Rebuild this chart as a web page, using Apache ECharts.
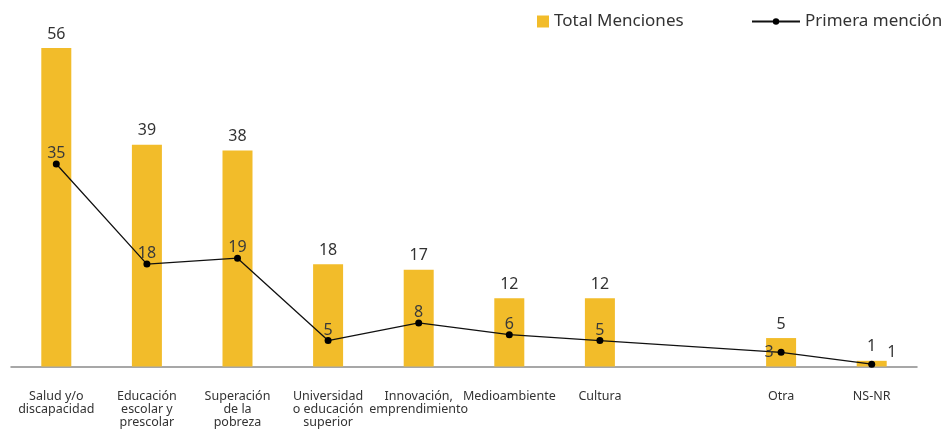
<!DOCTYPE html>
<html>
<head>
<meta charset="utf-8">
<script src="https://cdn.jsdelivr.net/npm/echarts@6/dist/echarts.min.js"></script>
<style>
  html, body { margin: 0; padding: 0; background: #fff; }
  #chart { width: 944px; height: 429px; }
</style>
</head>
<body>
<div id="chart"></div>
<script>
const categories = [
  'Salud y/o\ndiscapacidad',
  'Educación\nescolar y\nprescolar',
  'Superación\nde la\npobreza',
  'Universidad\no educación\nsuperior',
  'Innovación,\nemprendimiento',
  'Medioambiente',
  'Cultura',
  '',
  'Otra',
  'NS-NR'
];
const totalMenciones = [56, 39, 38, 18, 17, 12, 12, null, 5, 1];
const primeraMencion = [35, 18, 19, 5, 8, 6, 5, null, 3, 1];

const font = 'Noto Sans';

// etiquetas de la línea: la mayoría arriba, Otra a la izquierda, NS-NR a la derecha
const lineData = primeraMencion.map((v, i) => {
  if (i === 8) return { value: v, label: { position: 'left', distance: 4 } };
  if (i === 9) return { value: v, label: { position: 'right', distance: 12, offset: [0, -12] } };
  return v;
});

const chart = echarts.init(document.getElementById('chart'));
chart.setOption({
  animation: false,
  textStyle: { fontFamily: font },
  legend: [
    {
      data: ['Total Menciones'],
      left: 532, top: 8,
      itemWidth: 12, itemHeight: 12,
      itemGap: 7,
      icon: 'rect',
      textStyle: { fontFamily: font, fontSize: 17, color: '#333' }
    },
    {
      data: ['Primera mención'],
      left: 746, top: 8,
      itemWidth: 48, itemHeight: 8,
      textStyle: { fontFamily: font, fontSize: 17, color: '#333' }
    }
  ],
  grid: {
    left: 11, width: 906, top: 48, height: 318.5,
    containLabel: false, outerBoundsMode: 'none'
  },
  xAxis: {
    type: 'category',
    data: categories,
    axisLine: { lineStyle: { color: '#8a8a8a', width: 1.5 } },
    axisTick: { show: false },
    axisLabel: {
      interval: 0, margin: 23, color: '#333',
      fontFamily: font, fontSize: 12.5, lineHeight: 13
    }
  },
  yAxis: [
    { type: 'value', min: 0, max: 56, show: false },
    { type: 'value', min: 0.6, max: 54.7, show: false }
  ],
  series: [
    {
      name: 'Total Menciones',
      type: 'bar',
      data: totalMenciones,
      barWidth: 30,
      itemStyle: { color: '#F2BC2A' },
      label: {
        show: true, position: 'top', distance: 6,
        color: '#333', fontFamily: font, fontSize: 16
      }
    },
    {
      name: 'Primera mención',
      type: 'line',
      yAxisIndex: 1,
      data: lineData,
      connectNulls: true,
      symbol: 'circle',
      symbolSize: 7,
      itemStyle: { color: '#000' },
      lineStyle: { color: '#111', width: 1.3 },
      label: {
        show: true, position: 'top', distance: -1,
        color: '#3a3a3a', fontFamily: font, fontSize: 16
      }
    }
  ]
});
</script>
</body>
</html>
